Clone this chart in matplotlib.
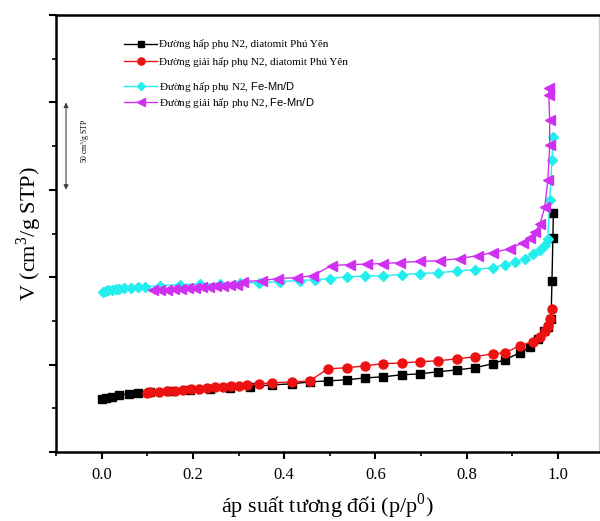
import matplotlib
matplotlib.use("Agg")
import matplotlib.pyplot as plt
from matplotlib.ticker import MultipleLocator, NullFormatter

plt.rcParams['font.family'] = ['Liberation Serif', 'DejaVu Serif']
plt.rcParams['mathtext.fontset'] = 'custom'
plt.rcParams['mathtext.rm'] = 'Liberation Serif'
plt.rcParams['mathtext.sf'] = 'Liberation Sans'

# diatomit Phu Yen, adsorption
p_ads_dia = [0.0, 0.009, 0.022, 0.039, 0.061, 0.079, 0.105, 0.149, 0.193, 0.237, 0.281, 0.325,
             0.373, 0.417, 0.456, 0.496, 0.537, 0.577, 0.616, 0.658, 0.697, 0.737, 0.779, 0.818,
             0.857, 0.884, 0.917, 0.939, 0.956, 0.969, 0.978, 0.985, 0.987, 0.989, 0.990]
v_ads_dia = [30.4, 31.0, 31.5, 32.7, 33.3, 33.8, 34.4, 35.0, 35.5, 36.1, 36.7, 37.3,
             38.4, 39.0, 40.1, 40.7, 41.3, 42.4, 43.0, 44.2, 44.7, 45.9, 47.0, 48.2,
             50.5, 52.8, 56.8, 60.2, 64.8, 69.4, 71.7, 76.3, 98.1, 122.7, 136.5]

# diatomit Phu Yen, desorption
p_des_dia = [0.987, 0.982, 0.978, 0.971, 0.961, 0.945, 0.917, 0.884, 0.857, 0.818, 0.779, 0.737,
             0.697, 0.658, 0.616, 0.577, 0.537, 0.496, 0.456, 0.417, 0.373, 0.346, 0.318, 0.300,
             0.283, 0.265, 0.248, 0.230, 0.213, 0.195, 0.178, 0.160, 0.143, 0.125, 0.107, 0.099]
v_des_dia = [82.0, 76.3, 72.2, 69.4, 65.9, 63.1, 60.8, 56.8, 56.2, 54.5, 53.3, 52.2,
             51.6, 51.0, 50.5, 49.3, 48.2, 47.6, 40.7, 40.1, 39.6, 39.0, 38.4, 37.8,
             37.6, 37.3, 37.0, 36.7, 36.1, 35.8, 35.5, 35.0, 34.7, 34.4, 34.1, 33.8]

# Fe-Mn/D, adsorption
p_ads_fe = [0.002, 0.009, 0.015, 0.022, 0.031, 0.039, 0.050, 0.064, 0.079, 0.094,
            0.127, 0.171, 0.215, 0.259, 0.303, 0.346, 0.390, 0.434, 0.467,
            0.500, 0.537, 0.577, 0.616, 0.658, 0.697, 0.737, 0.779, 0.818, 0.857,
            0.884, 0.906, 0.928, 0.945, 0.961, 0.971, 0.978, 0.982, 0.987, 0.989]
v_ads_fe = [91.7, 92.3, 92.6, 92.9, 93.2, 93.5, 93.7, 94.0, 94.3, 94.6,
            95.2, 95.8, 96.0, 96.3, 96.6, 96.9, 97.5, 98.1, 98.6,
            99.2, 100.3, 100.6, 100.9, 101.5, 102.1, 102.6, 103.5, 104.4, 105.5,
            107.2, 108.9, 110.7, 113.0, 115.8, 118.7, 122.1, 143.9, 166.9, 180.0]

# Fe-Mn/D, desorption
p_des_fe = [0.980, 0.980, 0.982, 0.982, 0.978, 0.971, 0.961, 0.950, 0.939, 0.923,
            0.895, 0.857, 0.825, 0.785, 0.741, 0.697, 0.654, 0.616, 0.581, 0.544, 0.504,
            0.463, 0.428, 0.386, 0.351, 0.309,
            0.296, 0.281, 0.265, 0.250, 0.235, 0.219, 0.204, 0.189, 0.173, 0.158, 0.143, 0.127, 0.112]
v_des_fe = [208.1, 204.1, 189.8, 175.5, 155.4, 139.9, 130.7, 125.6, 122.7, 119.8,
            116.4, 114.1, 112.4, 110.7, 109.5, 109.0, 108.4, 107.8, 107.5, 107.2, 106.7,
            100.9, 99.8, 99.2, 98.1, 97.5,
            95.8, 95.5, 95.2, 94.9, 94.6, 94.3, 94.0, 93.7, 93.5, 93.2, 92.9, 92.9, 92.6]

labels = ['Đường hấp phụ N2, diatomit Phú Yên',
          'Đường giải hấp phụ N2, diatomit Phú Yên',
          r'Đường hấp phụ N2, $\mathsf{Fe}$-$\mathsf{Mn/D}$',
          r'Đường giải hấp phụ N2, $\mathsf{Fe}$-$\mathsf{Mn/D}$']

fig = plt.figure(figsize=(6, 5.21), dpi=100)
ax = fig.add_axes([0.0933, 0.1324, 0.905, 0.8388])

h1, = ax.plot(p_ads_dia, v_ads_dia, '-s', color='black', ms=6, lw=1)
h2, = ax.plot(p_des_dia, v_des_dia, '-o', color='#ee1111', ms=6.5, lw=1)
h3, = ax.plot(p_ads_fe, v_ads_fe, '-D', color='#22eeee', ms=5.5, lw=1)
h4, = ax.plot(p_des_fe, v_des_fe, '-<', color='#d030f0', ms=7, lw=1)

ax.set_xlim(-0.1, 1.09)
ax.set_ylim(0, 250)
ax.xaxis.set_major_locator(MultipleLocator(0.2))
ax.xaxis.set_minor_locator(MultipleLocator(0.1))
ax.yaxis.set_major_locator(MultipleLocator(50))
ax.yaxis.set_minor_locator(MultipleLocator(25))
ax.yaxis.set_major_formatter(NullFormatter())
ax.tick_params(which='major', direction='out', length=5, width=1.5, labelsize=12)
ax.tick_params(which='minor', direction='out', length=3, width=1.2)
ax.tick_params(axis='x', pad=6)

for s in ['left', 'bottom', 'top']:
    ax.spines[s].set_linewidth(1.8)
ax.spines['right'].set_color('#cccccc')
ax.spines['right'].set_linewidth(1)

ax.set_xlabel('áp suất tương đối (p/p$^0$)', fontsize=16, labelpad=6)
ax.set_ylabel('V (cm$^3$/g STP)', fontsize=16, labelpad=0)

leg_kw = dict(loc='upper left', frameon=False, fontsize=8, handlelength=3.0,
              handletextpad=0.2, borderpad=0, borderaxespad=0, markerscale=0.8)
leg1 = ax.legend([h1, h2], labels[:2], bbox_to_anchor=(0.125, 0.944),
                 labelspacing=0.7, **leg_kw)
ax.add_artist(leg1)
ax.legend([h3, h4], labels[2:], bbox_to_anchor=(0.125, 0.851),
          labelspacing=0.15, **leg_kw)

# scale bar: 50 cm3/g STP
ax.annotate('', xy=(-0.078, 200), xytext=(-0.078, 150),
            arrowprops=dict(arrowstyle='<|-|>', color='#444444', lw=0.8,
                            mutation_scale=7, shrinkA=0, shrinkB=0))
ax.text(-0.036, 178, '50 cm$^3$/g STP', rotation=90, fontsize=5.5,
        ha='center', va='center')

fig.savefig('out.png', dpi=100)
